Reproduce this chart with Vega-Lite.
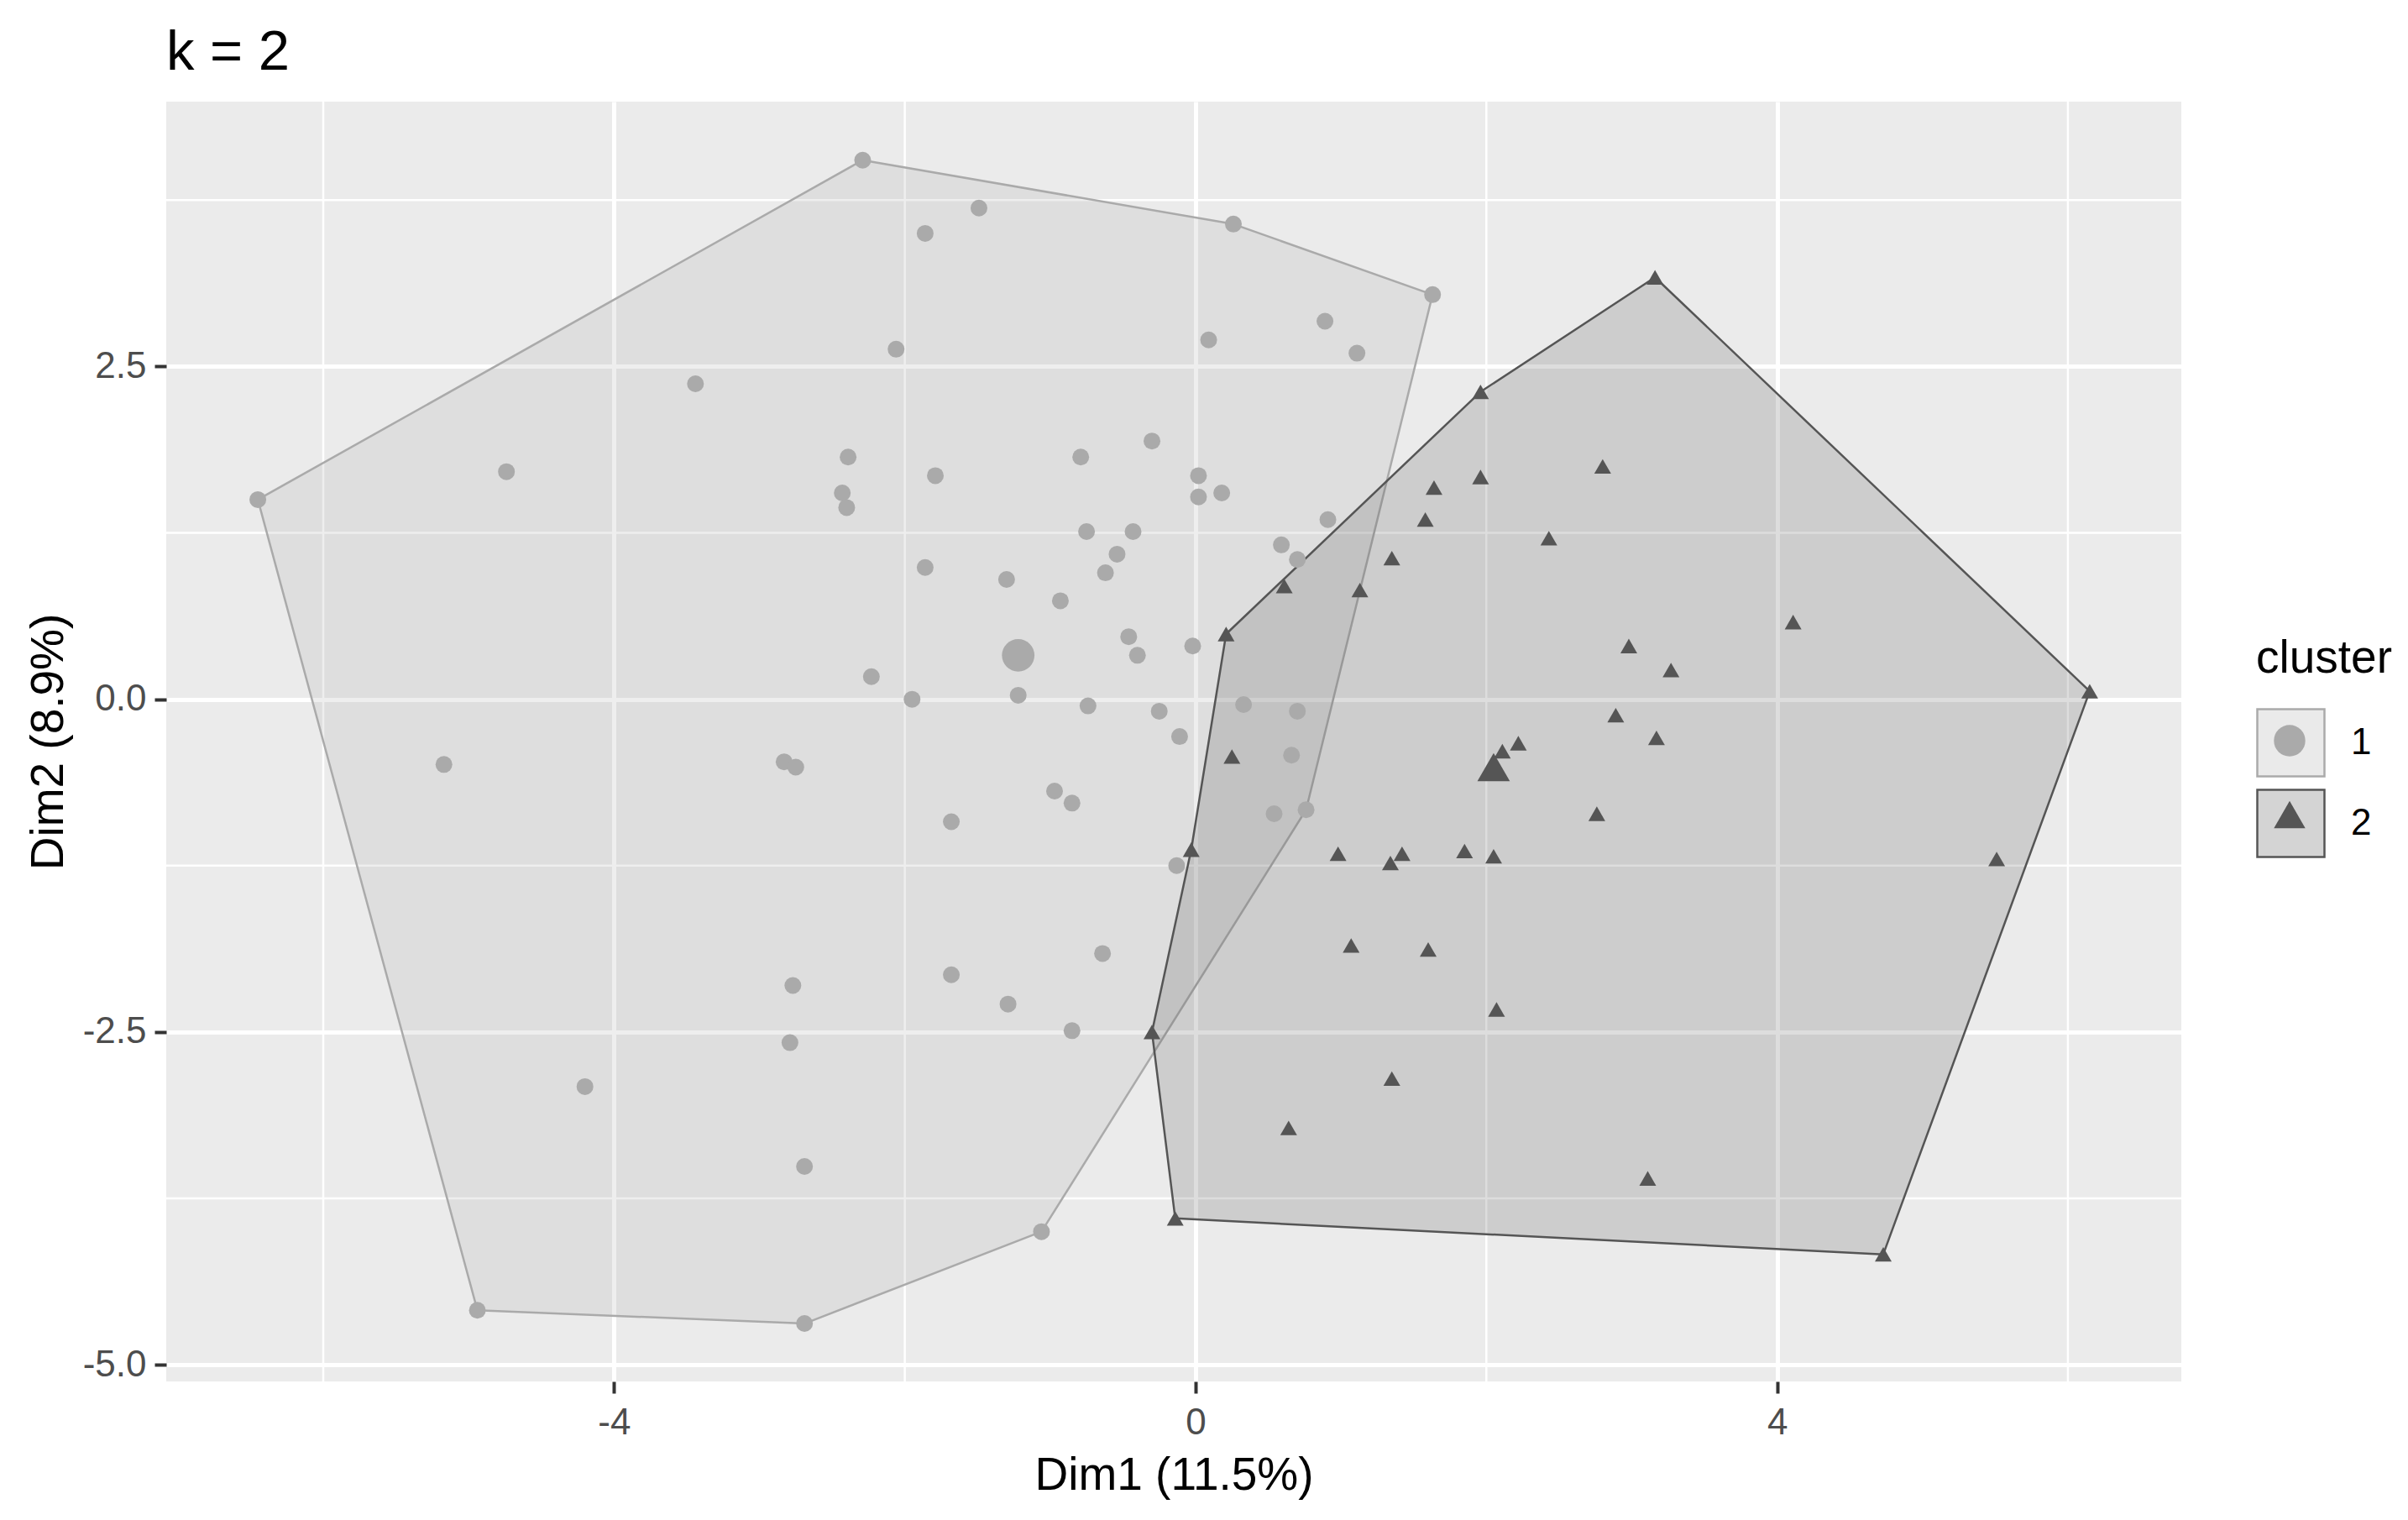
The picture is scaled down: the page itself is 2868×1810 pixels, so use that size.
{
  "$schema": "https://vega.github.io/schema/vega-lite/v6.json",
  "width": 2400,
  "height": 1524,
  "autosize": {"type": "none"},
  "padding": {"left": 198, "top": 121, "right": 270, "bottom": 165},
  "background": "#FFFFFF",
  "title": {"text": "k = 2", "anchor": "start", "frame": "group", "fontSize": 67, "font": "Liberation Sans", "fontWeight": "normal", "color": "#000000", "baseline": "alphabetic", "offset": 38, "dy": 68},
  "datasets": {
    "gridx": [{"dim1": -6}, {"dim1": -2}, {"dim1": 2}, {"dim1": 6}],
    "gridy": [{"dim2": -3.75}, {"dim2": -1.25}, {"dim2": 1.25}, {"dim2": 3.75}],
    "hull": [
      {"cluster": "1", "vertex": 1, "dim1": -2.29, "dim2": 4.05},
      {"cluster": "1", "vertex": 2, "dim1": 0.26, "dim2": 3.57},
      {"cluster": "1", "vertex": 3, "dim1": 1.63, "dim2": 3.04},
      {"cluster": "1", "vertex": 4, "dim1": 0.76, "dim2": -0.83},
      {"cluster": "1", "vertex": 5, "dim1": -1.06, "dim2": -4.00},
      {"cluster": "1", "vertex": 6, "dim1": -2.69, "dim2": -4.69},
      {"cluster": "1", "vertex": 7, "dim1": -4.94, "dim2": -4.59},
      {"cluster": "1", "vertex": 8, "dim1": -6.45, "dim2": 1.50},
      {"cluster": "1", "vertex": 9, "dim1": -2.29, "dim2": 4.05},
      {"cluster": "2", "vertex": 1, "dim1": 3.16, "dim2": 3.17},
      {"cluster": "2", "vertex": 2, "dim1": 6.15, "dim2": 0.06},
      {"cluster": "2", "vertex": 3, "dim1": 4.73, "dim2": -4.17},
      {"cluster": "2", "vertex": 4, "dim1": -0.14, "dim2": -3.90},
      {"cluster": "2", "vertex": 5, "dim1": -0.30, "dim2": -2.50},
      {"cluster": "2", "vertex": 6, "dim1": -0.03, "dim2": -1.13},
      {"cluster": "2", "vertex": 7, "dim1": 0.21, "dim2": 0.49},
      {"cluster": "2", "vertex": 8, "dim1": 1.96, "dim2": 2.31},
      {"cluster": "2", "vertex": 9, "dim1": 3.16, "dim2": 3.17}
    ],
    "points": [
      {"cluster": "1", "kind": "obs", "dim1": -2.29, "dim2": 4.05},
      {"cluster": "1", "kind": "obs", "dim1": 0.26, "dim2": 3.57},
      {"cluster": "1", "kind": "obs", "dim1": 1.63, "dim2": 3.04},
      {"cluster": "1", "kind": "obs", "dim1": -1.49, "dim2": 3.69},
      {"cluster": "1", "kind": "obs", "dim1": -1.86, "dim2": 3.50},
      {"cluster": "1", "kind": "obs", "dim1": 0.89, "dim2": 2.84},
      {"cluster": "1", "kind": "obs", "dim1": 0.09, "dim2": 2.70},
      {"cluster": "1", "kind": "obs", "dim1": 1.11, "dim2": 2.60},
      {"cluster": "1", "kind": "obs", "dim1": -2.06, "dim2": 2.63},
      {"cluster": "1", "kind": "obs", "dim1": -3.44, "dim2": 2.37},
      {"cluster": "1", "kind": "obs", "dim1": -4.74, "dim2": 1.71},
      {"cluster": "1", "kind": "obs", "dim1": -6.45, "dim2": 1.50},
      {"cluster": "1", "kind": "obs", "dim1": -2.39, "dim2": 1.82},
      {"cluster": "1", "kind": "obs", "dim1": -1.79, "dim2": 1.68},
      {"cluster": "1", "kind": "obs", "dim1": -0.79, "dim2": 1.82},
      {"cluster": "1", "kind": "obs", "dim1": -0.30, "dim2": 1.94},
      {"cluster": "1", "kind": "obs", "dim1": 0.02, "dim2": 1.68},
      {"cluster": "1", "kind": "obs", "dim1": 0.02, "dim2": 1.52},
      {"cluster": "1", "kind": "obs", "dim1": 0.18, "dim2": 1.55},
      {"cluster": "1", "kind": "obs", "dim1": -2.43, "dim2": 1.55},
      {"cluster": "1", "kind": "obs", "dim1": -2.40, "dim2": 1.44},
      {"cluster": "1", "kind": "obs", "dim1": -0.75, "dim2": 1.26},
      {"cluster": "1", "kind": "obs", "dim1": -0.43, "dim2": 1.26},
      {"cluster": "1", "kind": "obs", "dim1": -0.54, "dim2": 1.09},
      {"cluster": "1", "kind": "obs", "dim1": -0.62, "dim2": 0.95},
      {"cluster": "1", "kind": "obs", "dim1": 0.91, "dim2": 1.35},
      {"cluster": "1", "kind": "obs", "dim1": 0.59, "dim2": 1.16},
      {"cluster": "1", "kind": "obs", "dim1": 0.70, "dim2": 1.05},
      {"cluster": "1", "kind": "obs", "dim1": -1.86, "dim2": 0.99},
      {"cluster": "1", "kind": "obs", "dim1": -1.30, "dim2": 0.90},
      {"cluster": "1", "kind": "obs", "dim1": -0.93, "dim2": 0.74},
      {"cluster": "1", "kind": "obs", "dim1": -0.46, "dim2": 0.47},
      {"cluster": "1", "kind": "obs", "dim1": -0.40, "dim2": 0.33},
      {"cluster": "1", "kind": "obs", "dim1": -0.02, "dim2": 0.40},
      {"cluster": "1", "kind": "obs", "dim1": -2.23, "dim2": 0.17},
      {"cluster": "1", "kind": "obs", "dim1": -1.22, "dim2": 0.03},
      {"cluster": "1", "kind": "obs", "dim1": -1.95, "dim2": 0.00},
      {"cluster": "1", "kind": "obs", "dim1": -0.74, "dim2": -0.05},
      {"cluster": "1", "kind": "obs", "dim1": -0.25, "dim2": -0.09},
      {"cluster": "1", "kind": "obs", "dim1": 0.33, "dim2": -0.04},
      {"cluster": "1", "kind": "obs", "dim1": 0.70, "dim2": -0.09},
      {"cluster": "1", "kind": "obs", "dim1": -0.11, "dim2": -0.28},
      {"cluster": "1", "kind": "obs", "dim1": 0.66, "dim2": -0.42},
      {"cluster": "1", "kind": "obs", "dim1": -5.17, "dim2": -0.49},
      {"cluster": "1", "kind": "obs", "dim1": -2.83, "dim2": -0.47},
      {"cluster": "1", "kind": "obs", "dim1": -2.75, "dim2": -0.51},
      {"cluster": "1", "kind": "obs", "dim1": -0.97, "dim2": -0.69},
      {"cluster": "1", "kind": "obs", "dim1": -0.85, "dim2": -0.78},
      {"cluster": "1", "kind": "obs", "dim1": 0.76, "dim2": -0.83},
      {"cluster": "1", "kind": "obs", "dim1": 0.54, "dim2": -0.86},
      {"cluster": "1", "kind": "obs", "dim1": -1.68, "dim2": -0.92},
      {"cluster": "1", "kind": "obs", "dim1": -0.13, "dim2": -1.25},
      {"cluster": "1", "kind": "obs", "dim1": -0.64, "dim2": -1.91},
      {"cluster": "1", "kind": "obs", "dim1": -1.68, "dim2": -2.07},
      {"cluster": "1", "kind": "obs", "dim1": -2.77, "dim2": -2.15},
      {"cluster": "1", "kind": "obs", "dim1": -1.29, "dim2": -2.29},
      {"cluster": "1", "kind": "obs", "dim1": -0.85, "dim2": -2.49},
      {"cluster": "1", "kind": "obs", "dim1": -2.79, "dim2": -2.58},
      {"cluster": "1", "kind": "obs", "dim1": -4.20, "dim2": -2.91},
      {"cluster": "1", "kind": "obs", "dim1": -2.69, "dim2": -3.51},
      {"cluster": "1", "kind": "obs", "dim1": -1.06, "dim2": -4.00},
      {"cluster": "1", "kind": "obs", "dim1": -4.94, "dim2": -4.59},
      {"cluster": "1", "kind": "obs", "dim1": -2.69, "dim2": -4.69},
      {"cluster": "1", "kind": "centre", "dim1": -1.22, "dim2": 0.33},
      {"cluster": "2", "kind": "obs", "dim1": 3.16, "dim2": 3.17},
      {"cluster": "2", "kind": "obs", "dim1": 1.96, "dim2": 2.31},
      {"cluster": "2", "kind": "obs", "dim1": 2.80, "dim2": 1.75},
      {"cluster": "2", "kind": "obs", "dim1": 1.96, "dim2": 1.67},
      {"cluster": "2", "kind": "obs", "dim1": 1.64, "dim2": 1.59},
      {"cluster": "2", "kind": "obs", "dim1": 1.58, "dim2": 1.35},
      {"cluster": "2", "kind": "obs", "dim1": 2.43, "dim2": 1.21},
      {"cluster": "2", "kind": "obs", "dim1": 1.35, "dim2": 1.06},
      {"cluster": "2", "kind": "obs", "dim1": 0.61, "dim2": 0.85},
      {"cluster": "2", "kind": "obs", "dim1": 1.13, "dim2": 0.82},
      {"cluster": "2", "kind": "obs", "dim1": 0.21, "dim2": 0.49},
      {"cluster": "2", "kind": "obs", "dim1": 4.11, "dim2": 0.58},
      {"cluster": "2", "kind": "obs", "dim1": 2.98, "dim2": 0.40},
      {"cluster": "2", "kind": "obs", "dim1": 3.27, "dim2": 0.22},
      {"cluster": "2", "kind": "obs", "dim1": 6.15, "dim2": 0.06},
      {"cluster": "2", "kind": "obs", "dim1": 2.89, "dim2": -0.12},
      {"cluster": "2", "kind": "obs", "dim1": 2.22, "dim2": -0.33},
      {"cluster": "2", "kind": "obs", "dim1": 2.11, "dim2": -0.39},
      {"cluster": "2", "kind": "obs", "dim1": 3.17, "dim2": -0.29},
      {"cluster": "2", "kind": "obs", "dim1": 0.25, "dim2": -0.43},
      {"cluster": "2", "kind": "obs", "dim1": 2.76, "dim2": -0.86},
      {"cluster": "2", "kind": "obs", "dim1": -0.03, "dim2": -1.13},
      {"cluster": "2", "kind": "obs", "dim1": 0.98, "dim2": -1.16},
      {"cluster": "2", "kind": "obs", "dim1": 1.42, "dim2": -1.16},
      {"cluster": "2", "kind": "obs", "dim1": 1.34, "dim2": -1.23},
      {"cluster": "2", "kind": "obs", "dim1": 1.85, "dim2": -1.14},
      {"cluster": "2", "kind": "obs", "dim1": 2.05, "dim2": -1.18},
      {"cluster": "2", "kind": "obs", "dim1": 5.51, "dim2": -1.20},
      {"cluster": "2", "kind": "obs", "dim1": 1.07, "dim2": -1.85},
      {"cluster": "2", "kind": "obs", "dim1": 1.60, "dim2": -1.88},
      {"cluster": "2", "kind": "obs", "dim1": 2.07, "dim2": -2.33},
      {"cluster": "2", "kind": "obs", "dim1": -0.30, "dim2": -2.50},
      {"cluster": "2", "kind": "obs", "dim1": 1.35, "dim2": -2.85},
      {"cluster": "2", "kind": "obs", "dim1": 0.64, "dim2": -3.22},
      {"cluster": "2", "kind": "obs", "dim1": 3.11, "dim2": -3.60},
      {"cluster": "2", "kind": "obs", "dim1": -0.14, "dim2": -3.90},
      {"cluster": "2", "kind": "obs", "dim1": 4.73, "dim2": -4.17},
      {"cluster": "2", "kind": "centre", "dim1": 2.05, "dim2": -0.51}
    ]
  },
  "layer": [
    {
      "data": {"name": "gridx"},
      "mark": {"type": "rule", "color": "#FFFFFF", "strokeWidth": 2.5},
      "encoding": {
        "x": {"field": "dim1", "type": "quantitative", "title": "Dim1 (11.5%)", "scale": {"domain": [-7.08, 6.78], "nice": false, "zero": false}}
      }
    },
    {
      "data": {"name": "gridy"},
      "mark": {"type": "rule", "color": "#FFFFFF", "strokeWidth": 2.5},
      "encoding": {
        "y": {"field": "dim2", "type": "quantitative", "title": "Dim2 (8.9%)", "scale": {"domain": [-5.125, 4.49], "nice": false, "zero": false}}
      }
    },
    {
      "data": {"name": "hull"},
      "mark": {"type": "line", "fillOpacity": 0.2, "strokeWidth": 2.5, "strokeJoin": "round"},
      "encoding": {
        "x": {"field": "dim1", "type": "quantitative", "title": "Dim1 (11.5%)"},
        "y": {"field": "dim2", "type": "quantitative", "title": "Dim2 (8.9%)"},
        "order": {"field": "vertex", "type": "quantitative"},
        "fill": {"field": "cluster", "type": "nominal", "scale": {"range": ["#AAAAAA", "#555555"]},
          "legend": {"title": "cluster", "orient": "none", "legendX": 2489, "legendY": 637, "symbolType": "square", "symbolSize": 6400, "symbolStrokeWidth": 2, "titlePadding": 30, "labelOffset": 30, "rowPadding": 5,
            "encode": {"symbols": {"update": {"fillOpacity": {"value": 0.25}, "strokeWidth": {"value": 2.5}}}}}},
        "stroke": {"field": "cluster", "type": "nominal", "scale": {"range": ["#AAAAAA", "#555555"]},
          "legend": {"title": "cluster", "orient": "none", "legendX": 2489, "legendY": 637, "symbolType": "square", "symbolSize": 6400, "symbolStrokeWidth": 2, "titlePadding": 30, "labelOffset": 30, "rowPadding": 5,
            "encode": {"symbols": {"update": {"fillOpacity": {"value": 0.25}, "strokeWidth": {"value": 2.5}}}}}}
      }
    },
    {
      "data": {"name": "points"},
      "mark": {"type": "point", "filled": true, "opacity": 1, "strokeWidth": 0},
      "encoding": {
        "x": {"field": "dim1", "type": "quantitative", "title": "Dim1 (11.5%)",
          "axis": {"values": [-4, 0, 4], "labelExpr": "datum.value < 0 ? '-' + format(-datum.value, 'd') : format(datum.value, 'd')", "labelPadding": 13, "titlePadding": 14}},
        "y": {"field": "dim2", "type": "quantitative", "title": "Dim2 (8.9%)",
          "axis": {"values": [-5, -2.5, 0, 2.5], "labelExpr": "datum.value < 0 ? '-' + format(-datum.value, '.1f') : format(datum.value, '.1f')", "labelPadding": 10, "titlePadding": 12}},
        "color": {"field": "cluster", "type": "nominal", "scale": {"domain": ["1", "2"], "range": ["#AAAAAA", "#555555"]},
          "legend": {"title": null, "orient": "none", "legendX": 2510, "legendY": 742, "symbolSize": 1400, "symbolStrokeWidth": 0, "labelExpr": "''", "labelFontSize": 1, "rowPadding": 50}},
        "shape": {"field": "cluster", "type": "nominal", "scale": {"domain": ["1", "2"], "range": ["circle", "triangle-up"]},
          "legend": {"title": null, "orient": "none", "legendX": 2510, "legendY": 742, "symbolSize": 1400, "symbolStrokeWidth": 0, "labelExpr": "''", "labelFontSize": 1, "rowPadding": 50}},
        "size": {"field": "kind", "type": "ordinal", "scale": {"domain": ["obs", "centre"], "range": [400, 1500]}, "legend": null}
      }
    }
  ],
  "config": {
    "view": {"fill": "#EBEBEB", "stroke": null},
    "axis": {
      "labelFont": "Liberation Sans", "titleFont": "Liberation Sans",
      "labelFontSize": 44, "titleFontSize": 55,
      "labelColor": "#4D4D4D", "titleColor": "#000000", "titleFontWeight": "normal",
      "tickColor": "#333333", "tickWidth": 4, "tickSize": 14,
      "domain": false, "grid": true, "gridColor": "#FFFFFF", "gridWidth": 5
    },
    "legend": {
      "titleFont": "Liberation Sans", "labelFont": "Liberation Sans",
      "titleFontSize": 55, "labelFontSize": 44,
      "titleColor": "#000000", "labelColor": "#000000", "titleFontWeight": "normal"
    }
  }
}
